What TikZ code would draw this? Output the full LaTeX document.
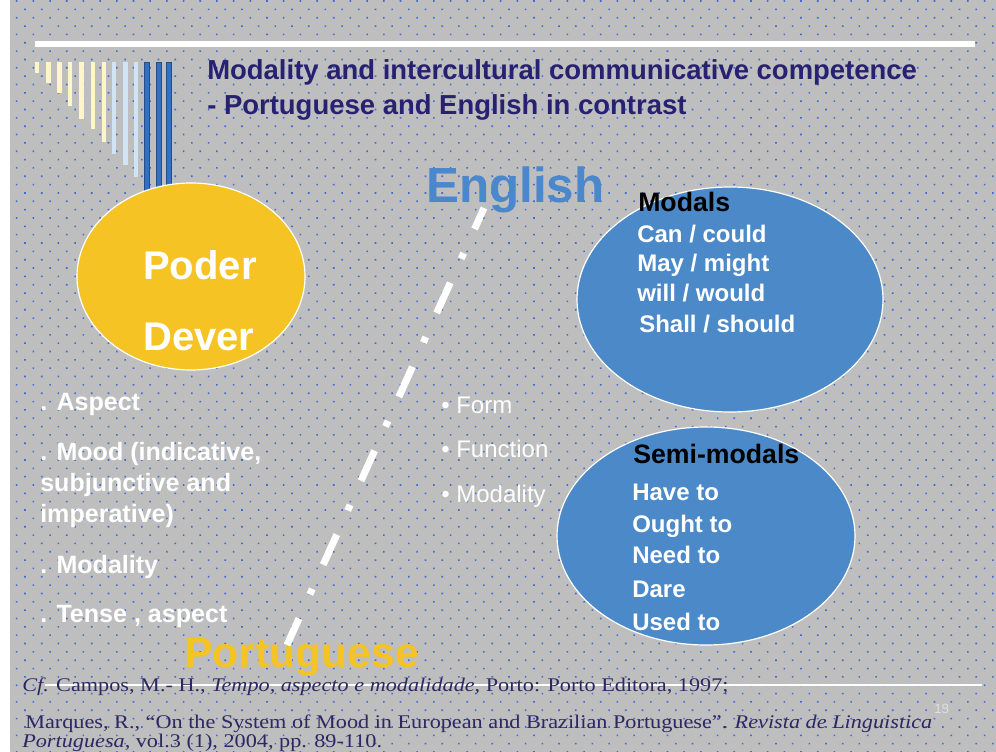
\documentclass[tikz,border=0pt]{standalone}
\usepackage{fontspec}
\setmainfont{Liberation Sans}
\newfontfamily\reffont[FakeStretch=1.15]{Liberation Serif}
\usetikzlibrary{shapes.geometric,patterns.meta}

\definecolor{bggray}{RGB}{190,190,190}
\definecolor{dotblue}{RGB}{62,108,210}
\definecolor{titlenavy}{RGB}{40,32,112}
\definecolor{englishblue}{RGB}{75,135,205}
\definecolor{sunyellow}{RGB}{245,195,35}
\definecolor{ovalblue}{RGB}{75,137,200}
\definecolor{paleyellow}{RGB}{255,246,200}
\definecolor{paleblue}{RGB}{208,228,245}
\definecolor{stripeblue}{RGB}{50,112,195}
\definecolor{refnavy}{RGB}{45,40,100}

\begin{document}
\begin{tikzpicture}[x=0.75pt,y=0.75pt,yscale=-1,
    titletext/.style={anchor=base west,inner sep=0.75pt,text=titlenavy,font=\bfseries\fontsize{20.6}{24}\selectfont},
    listtext/.style={anchor=base west,inner sep=0.75pt,text=white,font=\bfseries\fontsize{18.8}{22}\selectfont},
    bullettext/.style={anchor=base west,inner sep=0.75pt,text=white,font=\fontsize{18}{22}\selectfont},
    headtext/.style={anchor=base west,inner sep=0.75pt,text=black,font=\bfseries\fontsize{20}{24}\selectfont},
    modaltext/.style={anchor=base west,inner sep=0.75pt,text=white,font=\bfseries\fontsize{18}{22}\selectfont},
    reftext/.style={anchor=base west,inner sep=0pt,text=refnavy,font=\reffont\fontsize{14.5}{16}\selectfont},
    oval/.style={ellipse,draw=white,line width=0.9pt,inner sep=0pt}]
    \useasboundingbox (0,0) rectangle (996,752);

    %Shape: Background
    \fill[white] (0,0) rectangle (10,752);
    \fill[bggray] (10,0) rectangle (996,752);
    \fill[pattern={Dots[radius=0.85pt,distance=8.85pt,angle=45]},pattern color=dotblue] (10,0) rectangle (996,752);

    %Shape: Rectangle (top bar)
    \fill[white] (35,41) rectangle (975,47);

    %Shape: Stripes
    \fill[paleyellow] (35,62) rectangle (39,73);
    \fill[paleyellow] (46,62) rectangle (51,83);
    \fill[paleyellow] (57,62) rectangle (62,93);
    \fill[paleyellow] (68,62) rectangle (72,106);
    \fill[paleyellow] (79,62) rectangle (84,119);
    \fill[paleyellow] (91,62) rectangle (95,129);
    \fill[paleyellow] (102,62) rectangle (106,142);
    \fill[paleblue] (112,62) rectangle (116,154);
    \fill[paleblue] (123,62) rectangle (128,165);
    \fill[paleblue] (134,62) rectangle (138,177);
    \filldraw[fill=stripeblue,draw=stripeblue!70!black,line width=0.4pt] (144,62) rectangle (149,192);
    \filldraw[fill=stripeblue,draw=stripeblue!70!black,line width=0.4pt] (156,62) rectangle (161,192);
    \filldraw[fill=stripeblue,draw=stripeblue!70!black,line width=0.4pt] (166,62) rectangle (171,192);

    %Shape: Ellipses
    \node (poderdever) [oval,fill=sunyellow,minimum width=171pt,minimum height=140.25pt] at (191,276.5) {};
    \node (modalsoval) [oval,fill=ovalblue,minimum width=229.5pt,minimum height=168.75pt] at (730,299.5) {};
    \node (semioval) [oval,fill=ovalblue,minimum width=223.5pt,minimum height=163.5pt] at (706,536) {};

    %Straight Lines (footer rule)
    \coordinate (ruleleft) at (45,685);
    \coordinate (ruleright) at (982,685);
    \draw[white,line width=1.5pt] (ruleleft) -- (ruleright);

    % Text Node
    \node (title1) [titletext] at (206,80) {Modality and intercultural communicative competence};
    % Text Node
    \node (title2) [titletext] at (206,115) {- Portuguese and English in contrast};

    % Text Node
    \node (english) [anchor=base west,inner sep=0.75pt,text=englishblue,font=\bfseries\fontsize{37}{40}\selectfont] at (425,203) {English};
    % Text Node
    \node (portuguese) [anchor=base west,inner sep=0.75pt,text=sunyellow,font=\bfseries\fontsize{32}{36}\selectfont] at (183,667) {Portuguese};

    %Dash Dot Line
    \coordinate (englishfoot) at (484,208);
    \coordinate (portuguesehead) at (287,645);
    \draw[white,line width=5.25pt,dash pattern=on 24.75pt off 19.9pt on 4.5pt off 19.9pt,dash phase=7.5pt] (englishfoot) -- (portuguesehead);

    % Text Node
    \node (poder) [anchor=base west,inner sep=0.75pt,text=white,font=\bfseries\fontsize{30}{34}\selectfont] at (142,280) {Poder};
    % Text Node
    \node (dever) [anchor=base west,inner sep=0.75pt,text=white,font=\bfseries\fontsize{30}{34}\selectfont] at (142,350) {Dever};

    % Text Node
    \node (aspect) [listtext] at (39,410) {. Aspect};
    \node (mood) [listtext] at (39,460) {. Mood (indicative,};
    \node (subjunctive) [listtext] at (39,491) {subjunctive and};
    \node (imperative) [listtext] at (39,522) {imperative)};
    \node (modality) [listtext] at (39,573) {. Modality};
    \node (tense) [listtext] at (39,622) {. Tense , aspect};

    % Text Node
    \node (form) [bullettext] at (440,413) {• Form};
    \node (function) [bullettext] at (440,457) {• Function};
    \node (modalityb) [bullettext] at (440,502) {• Modality};

    % Text Node
    \node (modalshead) [headtext] at (637,212) {Modals};
    \node (can) [modaltext] at (636,243) {Can / could};
    \node (may) [modaltext] at (636,272) {May / might};
    \node (will) [modaltext] at (636,302) {will / would};
    \node (shall) [modaltext] at (638,333) {Shall / should};

    % Text Node
    \node (semihead) [headtext] at (632,463) {Semi-modals};
    \node (haveto) [modaltext] at (631,500) {Have to};
    \node (oughtto) [modaltext] at (631,532) {Ought to};
    \node (needto) [modaltext] at (631,563) {Need to};
    \node (dare) [modaltext] at (631,597) {Dare};
    \node (usedto) [modaltext] at (631,630) {Used to};

    % Text Node
    \node (ref1) [reftext] at (22,691) {\textit{Cf.} Campos, M.- H., \textit{Tempo, aspecto e modalidade}, Porto: Porto Editora, 1997;};
    \node (ref2) [reftext] at (25,728) {Marques, R., “On the System of Mood in European and Brazilian Portuguese”. \textit{Revista de Linguistica}};
    \node (ref3) [reftext] at (22,747) {\textit{Portuguesa}, vol.3 (1), 2004, pp. 89-110.};
    % Text Node
    \node (pagenum) [anchor=base west,inner sep=0.75pt,text=white!88!black,font=\fontsize{10}{12}\selectfont] at (933,713) {18};

\end{tikzpicture}
\end{document}
